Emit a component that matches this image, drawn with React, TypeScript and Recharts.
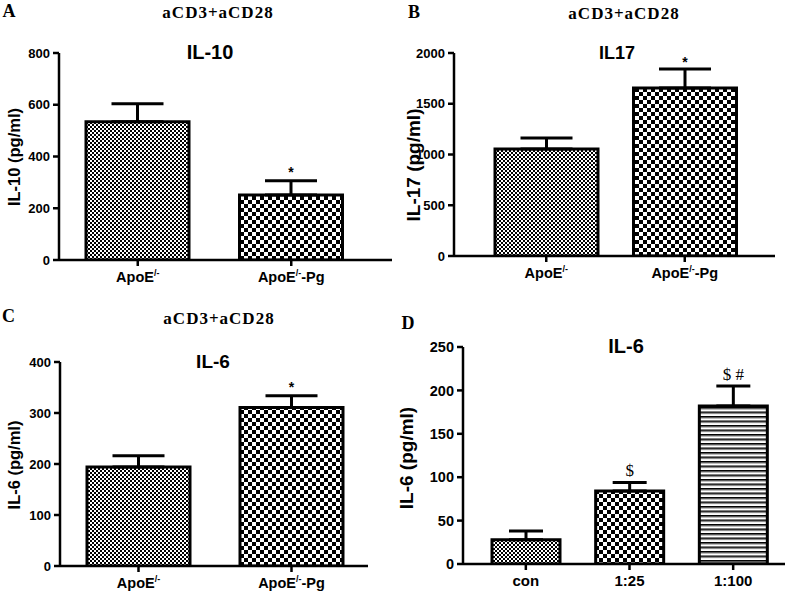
import React from "react";
import { Bar, BarChart, Cell, ErrorBar, LabelList, XAxis, YAxis } from "recharts";

// panels A–C: aCD3+aCD28 stimulated cells ("/-" is drawn as a superscript)
const strainGroups = ["ApoE/-", "ApoE/--Pg"];

const il10Values = [534, 251];
const il10Errors = [70, 55];
const il10Marks = ["", "*"];
const il10Ticks = [0, 200, 400, 600, 800];

const il17Values = [1055, 1655];
const il17Errors = [108, 187];
const il17Marks = ["", "*"];
const il17Ticks = [0, 500, 1000, 1500, 2000];

const il6Values = [194, 311];
const il6Errors = [22, 23];
const il6Marks = ["", "*"];
const il6Ticks = [0, 100, 200, 300, 400];

// panel D: dose response
const doseGroups = ["con", "1:25", "1:100"];
const doseValues = [28, 84, 182];
const doseErrors = [10, 10, 23];
const doseMarks = ["", "$", "$ #"];
const doseTicks = [0, 50, 100, 150, 200, 250];

const SANS = '"Liberation Sans", Arial, sans-serif';
const SERIF = '"Liberation Serif", "Times New Roman", serif';

const makeRows = (names: string[], values: number[], errors: number[], marks: string[]) =>
  names.map((name, i) => ({
    name,
    value: values[i],
    err: errors[i],
    errRange: [0, errors[i]],
    mark: marks[i],
  }));

const GroupTick = (props: any) => {
  const { x, y, payload, fontSize } = props;
  const v = String(payload.value);
  const cut = v.indexOf("/-");
  const base = y + 14;
  const common = { x, y: base, textAnchor: "middle" as const, fontSize, fontWeight: 700, fontFamily: SANS, fill: "#000" };
  if (cut < 0) return <text {...common}>{v}</text>;
  return (
    <text {...common}>
      {v.slice(0, cut)}
      <tspan fontSize={fontSize * 0.62} dy={-6}>/-</tspan>
      <tspan dy={6}>{v.slice(cut + 2)}</tspan>
    </text>
  );
};

type PanelProps = {
  left: number;
  top: number;
  width: number;
  height: number;
  margin: { top: number; right: number; bottom: number; left: number };
  xHeight: number;
  rows: ReturnType<typeof makeRows>;
  ticks: number[];
  pad: { left: number; right: number };
  barSize: number;
  capHalf: number;
  fills: string[];
  yFont: number;
  xFont: number;
  markFont: number;
  markSerif?: boolean;
  markGap: number;
};

function Panel(p: PanelProps) {
  const renderMark = (props: any) => {
    const vb = props.viewBox ?? props;
    const row = p.rows[props.index];
    if (!row || !row.mark) return null;
    const h = Math.abs(vb.height);
    const topY = Math.min(vb.y, vb.y + vb.height);
    const errTop = topY - (row.err * h) / row.value;
    return (
      <text
        x={vb.x + vb.width / 2}
        y={errTop - p.markGap}
        textAnchor="middle"
        fontSize={p.markFont}
        fontWeight={p.markSerif ? 400 : 700}
        fontFamily={p.markSerif ? SERIF : SANS}
        fill="#000"
      >
        {row.mark}
      </text>
    );
  };

  return (
    <div style={{ position: "absolute", left: p.left, top: p.top }}>
      <BarChart width={p.width} height={p.height} data={p.rows} margin={p.margin}>
        <XAxis
          dataKey="name"
          height={p.xHeight}
          padding={p.pad}
          stroke="#000"
          strokeWidth={2.5}
          tickSize={6}
          tickMargin={2}
          interval={0}
          tick={<GroupTick fontSize={p.xFont} />}
        />
        <YAxis
          width={50}
          domain={[p.ticks[0], p.ticks[p.ticks.length - 1]]}
          ticks={p.ticks}
          allowDataOverflow
          stroke="#000"
          strokeWidth={2.5}
          tickSize={6}
          tickMargin={3}
          tick={{ fontSize: p.yFont, fontWeight: 700, fill: "#000", fontFamily: SANS }}
        />
        <Bar dataKey="value" barSize={p.barSize} stroke="#000" strokeWidth={3} isAnimationActive={false}>
          {p.rows.map((_, i) => (
            <Cell key={i} fill={p.fills[i]} />
          ))}
          <ErrorBar dataKey="errRange" direction="y" width={p.capHalf} stroke="#000" strokeWidth={3} isAnimationActive={false} />
          <LabelList dataKey="mark" content={renderMark} />
        </Bar>
      </BarChart>
    </div>
  );
}

const Txt = ({ x, y, size, serif, rotate, children }: any) => (
  <div
    style={{
      position: "absolute",
      left: x,
      top: y,
      transform: `translate(-50%, -50%)${rotate ? " rotate(-90deg)" : ""}`,
      fontSize: size,
      fontWeight: 700,
      fontFamily: serif ? SERIF : SANS,
      whiteSpace: "nowrap",
      lineHeight: 1,
      letterSpacing: serif ? 1 : 0,
      color: "#000",
    }}
  >
    {children}
  </div>
);

export default function App() {
  const fine = "url(#chkFine)";
  const coarse = "url(#chkCoarse)";
  const stripes = "url(#hStripes)";
  return (
    <div style={{ position: "absolute", left: 0, top: 0, width: 793, height: 592, background: "#fff", overflow: "hidden" }}>
      <svg width={0} height={0} style={{ position: "absolute" }}>
        <defs>
          <pattern id="chkFine" width={4} height={4} patternUnits="userSpaceOnUse">
            <rect width={4} height={4} fill="#fff" />
            <rect width={2} height={2} fill="#000" />
            <rect x={2} y={2} width={2} height={2} fill="#000" />
          </pattern>
          <pattern id="chkCoarse" width={8} height={8} patternUnits="userSpaceOnUse">
            <rect width={8} height={8} fill="#fff" />
            <rect width={4} height={4} fill="#000" />
            <rect x={4} y={4} width={4} height={4} fill="#000" />
          </pattern>
          <pattern id="hStripes" width={10} height={4.5} patternUnits="userSpaceOnUse">
            <rect width={10} height={4.5} fill="#fff" />
            <rect width={10} height={1.6} fill="#000" />
            <rect y={1.6} width={10} height={0.9} fill="#8a8a8a" />
          </pattern>
        </defs>
      </svg>

      <Panel
        left={0}
        top={0}
        width={400}
        height={290}
        margin={{ top: 53, right: 8, bottom: 0, left: 9 }}
        xHeight={30}
        rows={makeRows(strainGroups, il10Values, il10Errors, il10Marks)}
        ticks={il10Ticks}
        pad={{ left: 2, right: 24 }}
        barSize={103}
        capHalf={26}
        fills={[fine, coarse]}
        yFont={13}
        xFont={14.5}
        markFont={14}
        markGap={4}
      />
      <Panel
        left={395}
        top={0}
        width={398}
        height={290}
        margin={{ top: 53, right: 18, bottom: 4, left: 9 }}
        xHeight={30}
        rows={makeRows(strainGroups, il17Values, il17Errors, il17Marks)}
        ticks={il17Ticks}
        pad={{ left: 23, right: 21 }}
        barSize={103}
        capHalf={26}
        fills={[fine, coarse]}
        yFont={13}
        xFont={14.5}
        markFont={14}
        markGap={2}
      />
      <Panel
        left={0}
        top={290}
        width={400}
        height={302}
        margin={{ top: 72, right: 32, bottom: 0, left: 10 }}
        xHeight={26}
        rows={makeRows(strainGroups, il6Values, il6Errors, il6Marks)}
        ticks={il6Ticks}
        pad={{ left: 2, right: 0 }}
        barSize={103}
        capHalf={26}
        fills={[fine, coarse]}
        yFont={13}
        xFont={14.5}
        markFont={14}
        markGap={4}
      />
      <Panel
        left={395}
        top={290}
        width={398}
        height={302}
        margin={{ top: 57, right: 8, bottom: 0, left: 18 }}
        xHeight={28}
        rows={makeRows(doseGroups, doseValues, doseErrors, doseMarks)}
        ticks={doseTicks}
        pad={{ left: 11, right: 0 }}
        barSize={68}
        capHalf={17}
        fills={[fine, coarse, stripes]}
        yFont={14.5}
        xFont={15}
        markFont={17}
        markSerif
        markGap={6}
      />

      <Txt x={9.5} y={11} size={18} serif>A</Txt>
      <Txt x={218} y={12} size={17} serif>aCD3+aCD28</Txt>
      <Txt x={210} y={52} size={20}>IL-10</Txt>
      <Txt x={14} y={157} size={16.5} rotate>IL-10 (pg/ml)</Txt>

      <Txt x={414.5} y={12} size={18} serif>B</Txt>
      <Txt x={624} y={13} size={17} serif>aCD3+aCD28</Txt>
      <Txt x={617} y={53} size={18}>IL17</Txt>
      <Txt x={413} y={165} size={19} rotate>IL-17 (pg/ml)</Txt>

      <Txt x={9} y={316} size={18} serif>C</Txt>
      <Txt x={219} y={318} size={17} serif>aCD3+aCD28</Txt>
      <Txt x={213} y={361} size={19}>IL-6</Txt>
      <Txt x={14} y={465} size={16.5} rotate>IL-6 (pg/ml)</Txt>

      <Txt x={408.5} y={323} size={18} serif>D</Txt>
      <Txt x={626} y={346} size={20}>IL-6</Txt>
      <Txt x={406} y={458} size={19} rotate>IL-6 (pg/ml)</Txt>
    </div>
  );
}
